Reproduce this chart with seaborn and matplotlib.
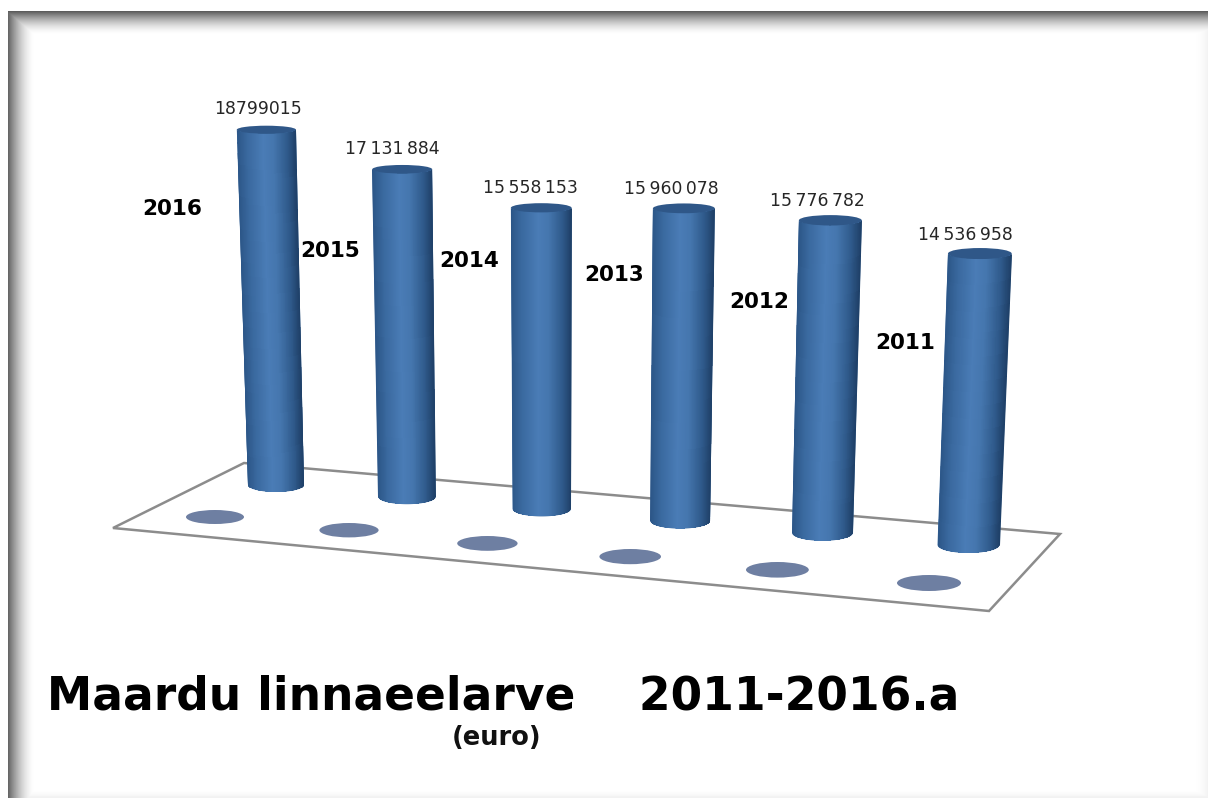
import numpy as np
import pandas as pd
import matplotlib
matplotlib.use("Agg")
import matplotlib.pyplot as plt
import seaborn as sns
from matplotlib.colors import LinearSegmentedColormap
from matplotlib.patches import Ellipse, Polygon
from matplotlib.transforms import Transform

# ---- data ----
years = ["2016", "2015", "2014", "2013", "2012", "2011"]
budget = [18799015, 17131884, 15558153, 15960078, 15776782, 14536958]
value_labels = ["18799015", "17\u2009131\u2009884", "15\u2009558\u2009153",
                "15\u2009960\u2009078", "15\u2009776\u2009782", "14\u2009536\u2009958"]
title_text = "Maardu linnaeelarve    2011-2016.a"
unit_text = "(euro)"

# ---- layout of the year labels (figure pixels) ----
year_label_x = [172.5, 330, 469.5, 614, 759, 905]
year_label_y = [209, 251, 261, 275, 302, 343]
floor_corners = [(244, 463), (1060, 534), (989, 611), (113, 528)]

W, H = 1208, 800
HALF_BAR = 0.4


def base_x(i):
    return 276 + 131 * i + 3.75 * i * (i - 1) / 2


def base_y(i):
    return 485 + 12 * i


def project(i, v, u=0.0):
    """Perspective of the 3-D chart: category index, value, position across the cylinder."""
    h = np.asarray(v, float) * 1e-6 * (18.9 + 0.23 * i)
    bx = base_x(i)
    x = bx + (bx - 560) / 10500 * h
    y = base_y(i) - h
    frac = h / 340.0
    radius = (28 + 0.6 * i) + (1.5 - 0.1 * i) * frac
    return x + u * radius, y


class Projection(Transform):
    input_dims = output_dims = 2

    def transform_non_affine(self, values):
        values = np.asarray(values, float)
        i = np.round(values[:, 0])
        u = (values[:, 0] - i) / HALF_BAR
        x, y = project(i, values[:, 1], u)
        return np.column_stack([x, y])


def pixel_axes(zorder):
    a = fig.add_axes([0, 0, 1, 1], zorder=zorder)
    a.set_axis_off()
    a.patch.set_visible(False)
    return a


sns.set_theme(style="white")
plt.rcParams["font.family"] = ["DejaVu Sans"]

fig = plt.figure(figsize=(W / 100, H / 100), dpi=100, facecolor="white")

# pixel canvas: frame shadow, floor and floor ellipses
pix = pixel_axes(1)

xx, yy = np.meshgrid(np.arange(W) + 0.5, np.arange(H) + 0.5)
left = 0.62 * np.clip(1 - (xx - 8) / 27, 0, 1) ** 1.7
top = 0.66 * np.clip(1 - (yy - 11) / 24, 0, 1) ** 1.7
right = 0.05 * np.clip(1 - (W - xx) / 16, 0, 1) ** 2
bottom = 0.06 * np.clip(1 - (798 - yy) / 10, 0, 1) ** 2
dark = np.maximum.reduce([left, top, right, bottom])
dark[(xx < 8) | (yy < 11) | (yy > 798)] = 0
pix.imshow(1 - dark, cmap="gray", vmin=0, vmax=1, extent=(0, W, H, 0),
           interpolation="bilinear", aspect="auto", zorder=0)

pix.add_patch(Polygon(floor_corners, closed=True, facecolor="white",
                      edgecolor="#8c8c8c", linewidth=1.8, zorder=1))
for i in range(len(years)):
    cx = 215 + 134 * i + 4.4 * i * (i - 1) / 2
    cy = 517 + 13.2 * i
    pix.add_patch(Ellipse((cx, cy), 2 * (29 + 0.6 * i), 2 * (7 + 0.2 * i),
                          facecolor="#6e7fa2", edgecolor="none", zorder=2))
pix.set_xlim(0, W)
pix.set_ylim(H, 0)

# seaborn bars, drawn through the perspective of the chart
df = pd.DataFrame({"year": years, "budget": budget})
ax = fig.add_axes([0, 0, 1, 1], zorder=2)
ax.patch.set_visible(False)
sns.barplot(data=df, x="year", y="budget", order=years, color="#3a6a9f",
            width=2 * HALF_BAR * 0.98, saturation=1, ax=ax)
ax.set_axis_off()
to_pixels = Projection() + pix.transData
for bar in ax.patches:
    bar.set_transform(to_pixels)
    bar.set_clip_on(False)
    bar.set_linewidth(0)

# cylinder shading and all texts, above the bars
over = pixel_axes(3)
over.set_xlim(0, W)
over.set_ylim(H, 0)
shade = LinearSegmentedColormap.from_list(
    "cyl", [(0.0, "#2b5586"), (0.18, "#3a699f"), (0.45, "#4a7cb6"),
            (0.62, "#4576ae"), (0.85, "#2f5a8b"), (1.0, "#1f4068")])
u = np.linspace(-1, 1, 121)
front = np.sqrt(np.clip(1 - u ** 2, 0, 1))
for i, v in enumerate(budget):
    xb, yb = project(i, 0.0, u)
    xt, yt = project(i, float(v), u)
    bottom_minor = 7 + 0.2 * i
    top_minor = 4 + 0.3 * i
    X = np.vstack([xb, xt])
    Y = np.vstack([yb + bottom_minor * front, yt + top_minor * front])
    body = Polygon(np.column_stack([np.r_[X[0], X[1][::-1]], np.r_[Y[0], Y[1][::-1]]]),
                   closed=True, facecolor="#3a6a9f", edgecolor="none", zorder=2.9)
    over.add_patch(body)
    mesh = over.pcolormesh(X, Y, ((u[:-1] + u[1:]) / 4 + 0.5)[None, :], cmap=shade,
                           vmin=0, vmax=1, shading="flat", antialiased=False,
                           edgecolors="none", zorder=3)
    mesh.set_clip_path(body)
    tx, ty = project(i, float(v))
    rx = project(i, float(v), 1.0)[0] - tx
    over.add_patch(Ellipse((tx, ty), 2 * rx, 2 * top_minor, facecolor="#2f5788",
                           edgecolor="none", zorder=4))
    over.text(tx - 8.5 - 1.2 * i, ty - 21 + 0.5 * i, value_labels[i],
              ha="center", va="center", fontsize=12.4, color="#262626", zorder=5)
    over.text(year_label_x[i], year_label_y[i], years[i],
              ha="center", va="center", fontsize=15.5, fontweight="bold",
              color="black", zorder=5)

over.text(47, 709, title_text, ha="left", va="baseline",
          fontsize=32.8, fontweight="bold", color="black", zorder=5)
over.text(497, 738, unit_text, ha="center", va="center",
          fontsize=18.5, fontweight="bold", color="#111111", zorder=5)

over.set_xlim(0, W)
over.set_ylim(H, 0)
ax.set_xlim(-0.5, 5.5)
ax.set_ylim(0, 2e7)
fig.savefig("out.png", dpi=100)
